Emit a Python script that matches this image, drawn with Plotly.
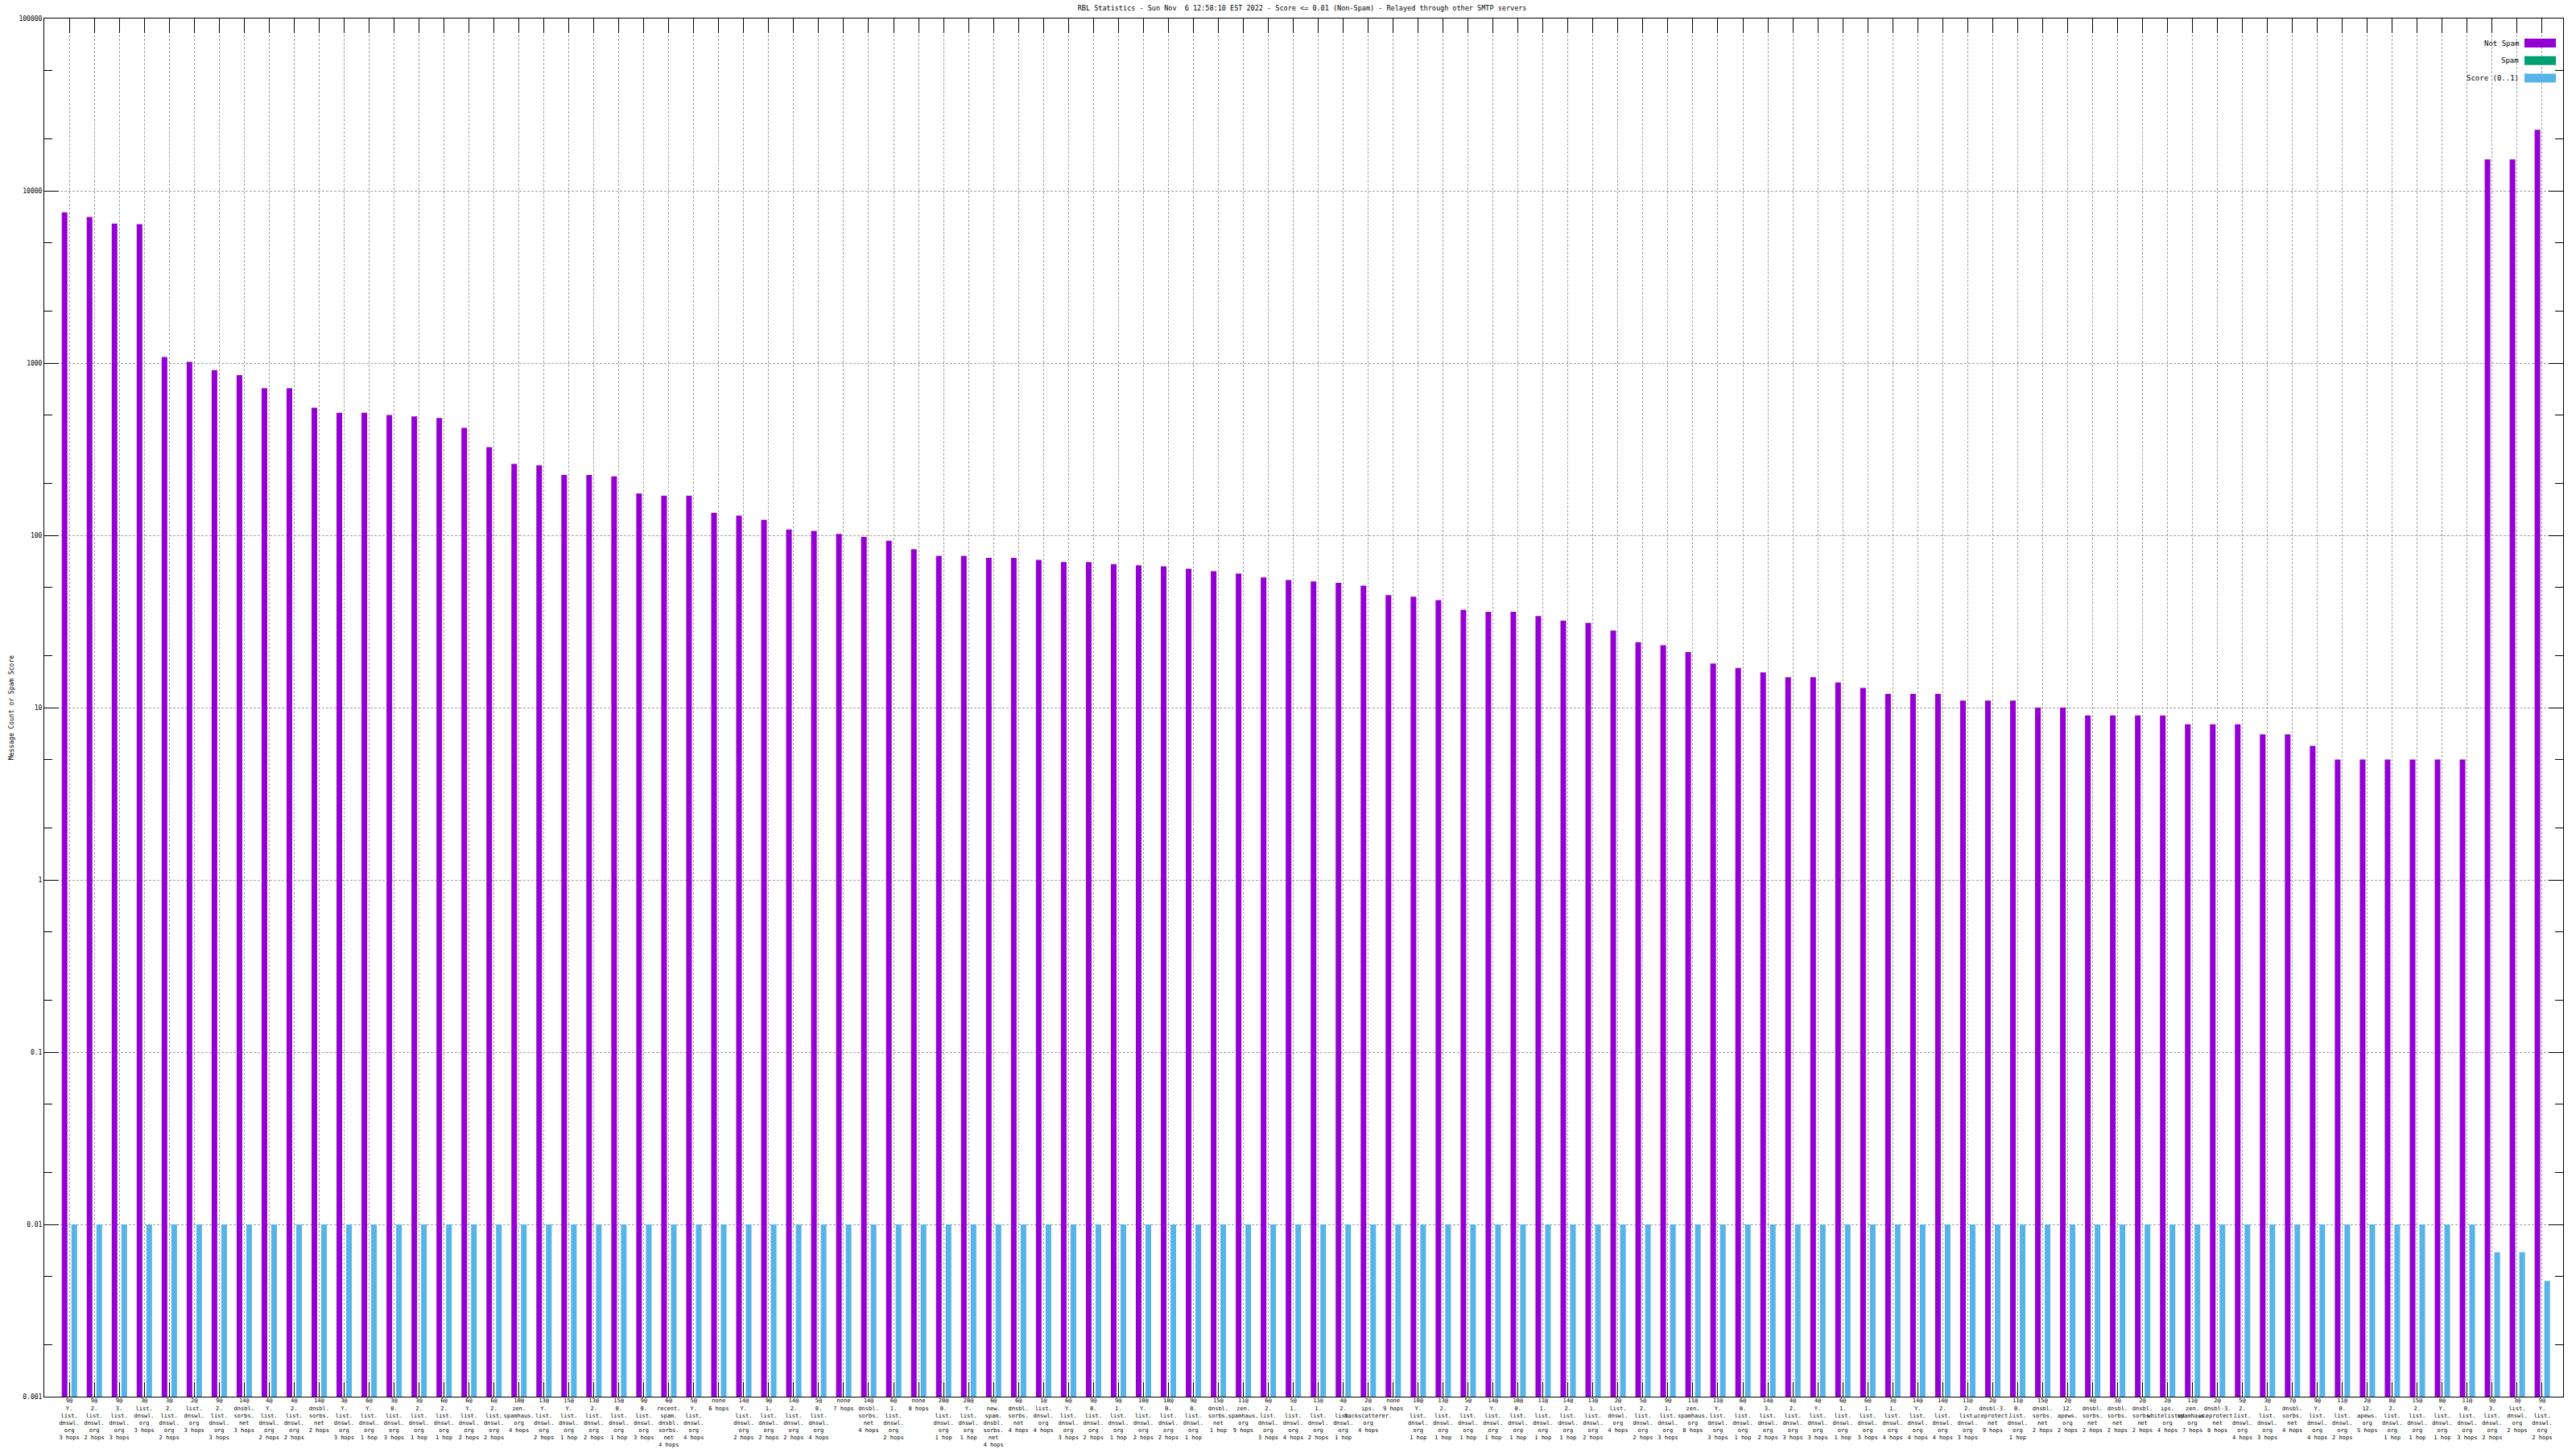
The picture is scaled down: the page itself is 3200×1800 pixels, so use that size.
import plotly.graph_objects as go

TITLE = "RBL Statistics - Sun Nov  6 12:58:10 EST 2022 - Score <= 0.01 (Non-Spam) - Relayed through other SMTP servers"
Y_TITLE = "Message Count or Spam Score"
SERIES = ["Not Spam", "Spam", "Score (0..1)"]
COLORS = ["#9400D3", "#009E73", "#56B4E9"]

categories = [
    "9@|Y.|list.|dnswl.|org|3 hops", "9@|2.|list.|dnswl.|org|2 hops", "9@|3.|list.|dnswl.|org|3 hops",
    "3@|list.|dnswl.|org|3 hops", "3@|2.|list.|dnswl.|org|2 hops", "2@|list.|dnswl.|org|3 hops",
    "9@|2.|list.|dnswl.|org|3 hops", "14@|dnsbl.|sorbs.|net|3 hops", "4@|Y.|list.|dnswl.|org|2 hops",
    "4@|2.|list.|dnswl.|org|2 hops", "14@|dnsbl.|sorbs.|net|2 hops", "3@|Y.|list.|dnswl.|org|3 hops",
    "6@|Y.|list.|dnswl.|org|1 hop", "3@|0.|list.|dnswl.|org|3 hops", "3@|2.|list.|dnswl.|org|1 hop",
    "6@|2.|list.|dnswl.|org|1 hop", "6@|Y.|list.|dnswl.|org|2 hops", "6@|2.|list.|dnswl.|org|2 hops",
    "10@|zen.|spamhaus.|org|4 hops", "13@|Y.|list.|dnswl.|org|2 hops", "15@|Y.|list.|dnswl.|org|1 hop",
    "13@|2.|list.|dnswl.|org|2 hops", "15@|0.|list.|dnswl.|org|1 hop", "9@|0.|list.|dnswl.|org|3 hops",
    "6@|recent.|spam.|dnsbl.|sorbs.|net|4 hops", "5@|Y.|list.|dnswl.|org|4 hops", "none|6 hops",
    "14@|Y.|list.|dnswl.|org|2 hops", "9@|1.|list.|dnswl.|org|2 hops", "14@|2.|list.|dnswl.|org|2 hops",
    "5@|0.|list.|dnswl.|org|4 hops", "none|7 hops", "14@|dnsbl.|sorbs.|net|4 hops",
    "6@|1.|list.|dnswl.|org|2 hops", "none|8 hops", "20@|0.|list.|dnswl.|org|1 hop",
    "20@|Y.|list.|dnswl.|org|1 hop", "6@|new.|spam.|dnsbl.|sorbs.|net|4 hops", "6@|dnsbl.|sorbs.|net|4 hops",
    "1@|list.|dnswl.|org|4 hops", "6@|Y.|list.|dnswl.|org|3 hops", "9@|0.|list.|dnswl.|org|2 hops",
    "9@|1.|list.|dnswl.|org|1 hop", "10@|Y.|list.|dnswl.|org|2 hops", "10@|0.|list.|dnswl.|org|2 hops",
    "9@|0.|list.|dnswl.|org|1 hop", "15@|dnsbl.|sorbs.|net|1 hop", "11@|zen.|spamhaus.|org|9 hops",
    "6@|2.|list.|dnswl.|org|3 hops", "5@|1.|list.|dnswl.|org|4 hops", "11@|1.|list.|dnswl.|org|2 hops",
    "4@|2.|list.|dnswl.|org|1 hop", "2@|ips.|backscatterer.|org|4 hops", "none|9 hops",
    "10@|Y.|list.|dnswl.|org|1 hop", "13@|2.|list.|dnswl.|org|1 hop", "5@|2.|list.|dnswl.|org|1 hop",
    "14@|Y.|list.|dnswl.|org|1 hop", "10@|0.|list.|dnswl.|org|1 hop", "11@|1.|list.|dnswl.|org|1 hop",
    "14@|2.|list.|dnswl.|org|1 hop", "13@|1.|list.|dnswl.|org|2 hops", "2@|list.|dnswl.|org|4 hops",
    "5@|2.|list.|dnswl.|org|2 hops", "9@|1.|list.|dnswl.|org|3 hops", "11@|zen.|spamhaus.|org|8 hops",
    "11@|Y.|list.|dnswl.|org|3 hops", "6@|0.|list.|dnswl.|org|1 hop", "14@|3.|list.|dnswl.|org|2 hops",
    "4@|2.|list.|dnswl.|org|3 hops", "4@|Y.|list.|dnswl.|org|3 hops", "6@|1.|list.|dnswl.|org|1 hop",
    "6@|1.|list.|dnswl.|org|3 hops", "3@|1.|list.|dnswl.|org|4 hops", "14@|Y.|list.|dnswl.|org|4 hops",
    "14@|2.|list.|dnswl.|org|4 hops", "11@|2.|list.|dnswl.|org|3 hops", "2@|dnsbl-3.|uceprotect.|net|9 hops",
    "11@|0.|list.|dnswl.|org|1 hop", "15@|dnsbl.|sorbs.|net|2 hops", "2@|12.|apews.|org|2 hops",
    "4@|dnsbl.|sorbs.|net|2 hops", "3@|dnsbl.|sorbs.|net|2 hops", "2@|dnsbl.|sorbs.|net|2 hops",
    "2@|ips.|whitelisted.|org|4 hops", "11@|zen.|spamhaus.|org|7 hops", "2@|dnsbl-3.|uceprotect.|net|8 hops",
    "5@|2.|list.|dnswl.|org|4 hops", "3@|1.|list.|dnswl.|org|3 hops", "7@|dnsbl.|sorbs.|net|4 hops",
    "9@|Y.|list.|dnswl.|org|4 hops", "11@|0.|list.|dnswl.|org|2 hops", "2@|12.|apews.|org|5 hops",
    "8@|2.|list.|dnswl.|org|1 hop", "15@|2.|list.|dnswl.|org|1 hop", "8@|Y.|list.|dnswl.|org|1 hop",
    "11@|0.|list.|dnswl.|org|3 hops", "9@|3.|list.|dnswl.|org|2 hops", "3@|list.|dnswl.|org|2 hops",
    "9@|Y.|list.|dnswl.|org|2 hops",
]

not_spam = [
    7500, 7040, 6450, 6400, 1085, 1015, 910, 850, 715, 715,
    550, 515, 515, 500, 490, 480, 420, 325, 260, 255,
    224, 224, 220, 175, 170, 170, 135, 130, 123, 108,
    106, 102, 98, 93, 83, 76, 76, 74, 74, 72,
    70, 70, 68, 67, 66, 64, 62, 60, 57, 55,
    54, 53, 51, 45, 44, 42, 37, 36, 36, 34,
    32, 31, 28, 24, 23, 21, 18, 17, 16, 15,
    15, 14, 13, 12, 12, 12, 11, 11, 11, 10,
    10, 9, 9, 9, 9, 8, 8, 8, 7, 7,
    6, 5, 5, 5, 5, 5, 5, 15200, 15200, 22600,
]

spam = [
    0, 0, 0, 0, 0, 0, 0, 0, 0, 0,
    0, 0, 0, 0, 0, 0, 0, 0, 0, 0,
    0, 0, 0, 0, 0, 0, 0, 0, 0, 0,
    0, 0, 0, 0, 0, 0, 0, 0, 0, 0,
    0, 0, 0, 0, 0, 0, 0, 0, 0, 0,
    0, 0, 0, 0, 0, 0, 0, 0, 0, 0,
    0, 0, 0, 0, 0, 0, 0, 0, 0, 0,
    0, 0, 0, 0, 0, 0, 0, 0, 0, 0,
    0, 0, 0, 0, 0, 0, 0, 0, 0, 0,
    0, 0, 0, 0, 0, 0, 0, 0, 0, 0,
]

score = [
    0.01, 0.01, 0.01, 0.01, 0.01, 0.01, 0.01, 0.01, 0.01, 0.01,
    0.01, 0.01, 0.01, 0.01, 0.01, 0.01, 0.01, 0.01, 0.01, 0.01,
    0.01, 0.01, 0.01, 0.01, 0.01, 0.01, 0.01, 0.01, 0.01, 0.01,
    0.01, 0.01, 0.01, 0.01, 0.01, 0.01, 0.01, 0.01, 0.01, 0.01,
    0.01, 0.01, 0.01, 0.01, 0.01, 0.01, 0.01, 0.01, 0.01, 0.01,
    0.01, 0.01, 0.01, 0.01, 0.01, 0.01, 0.01, 0.01, 0.01, 0.01,
    0.01, 0.01, 0.01, 0.01, 0.01, 0.01, 0.01, 0.01, 0.01, 0.01,
    0.01, 0.01, 0.01, 0.01, 0.01, 0.01, 0.01, 0.01, 0.01, 0.01,
    0.01, 0.01, 0.01, 0.01, 0.01, 0.01, 0.01, 0.01, 0.01, 0.01,
    0.01, 0.01, 0.01, 0.01, 0.01, 0.01, 0.01, 0.0069, 0.0069, 0.0047,
]

y_tickvals = [0.001, 0.01, 0.1, 1, 10, 100, 1000, 10000, 100000]
y_ticktext = ["0.001", "0.01", "0.1", "1", "10", "100", "1000", "10000", "100000"]

FONT = "DejaVu Sans Mono"
x = list(range(len(categories)))
ticktext = [c.replace("|", "<br>") for c in categories]

BW = 0.226
offsets = [-0.30, -0.113, 0.087]
fig = go.Figure()
for name, vals, col, off in zip(SERIES, [not_spam, spam, score], COLORS, offsets):
    fig.add_trace(go.Bar(
        x=x, y=[v if v > 0 else None for v in vals], name=name,
        marker=dict(color=col, line=dict(width=0)),
        width=BW, offset=off, showlegend=False,
    ))

# custom legend (text left of swatch, as in gnuplot)
for i, (name, col) in enumerate(zip(SERIES, COLORS)):
    y0 = 1 - (48 - 23 + i * 21.7) / 1712
    y1 = 1 - (59 - 23 + i * 21.7) / 1712
    fig.add_shape(type="rect", xref="paper", yref="paper",
                  x0=(3136 - 55) / 3129, x1=(3175 - 55) / 3129, y0=y1, y1=y0,
                  fillcolor=col, line=dict(width=0))
    fig.add_annotation(xref="paper", yref="paper", x=(3131 - 55) / 3129, y=(y0 + y1) / 2,
                       text=name, showarrow=False, xanchor="right", yanchor="middle",
                       font=dict(family=FONT, size=9, color="black"))

grid = dict(gridcolor="#a0a0a0", griddash="3px,2px", gridwidth=1)
fig.update_layout(
    width=3200, height=1800,
    margin=dict(l=55, r=16, t=23, b=65, autoexpand=False),
    plot_bgcolor="white", paper_bgcolor="white",
    barmode="overlay",
    title=dict(text=TITLE, x=0.5055, xanchor="center", y=1 - 7 / 1800, yanchor="top",
               font=dict(family=FONT, size=8.5, color="black")),
    font=dict(family=FONT, size=8, color="black"),
    xaxis=dict(range=[-1.0, 99.84], tickvals=x, ticktext=ticktext, automargin=False,
               ticks="inside", ticklen=18, tickcolor="black", tickwidth=1,
               showline=True, linecolor="black", linewidth=1, mirror="ticks",
               showgrid=True, zeroline=False, tickangle=0, ticklabelstandoff=-2,
               tickfont=dict(family=FONT, size=7, color="black"), **grid),
    yaxis=dict(type="log", range=[-3, 5], tickvals=y_tickvals, ticktext=y_ticktext,
               automargin=False,
               ticks="inside", ticklen=18, tickcolor="black", tickwidth=1,
               showline=True, linecolor="black", linewidth=1, mirror="ticks",
               showgrid=True, zeroline=False,
               minor=dict(ticks="inside", ticklen=10, tickcolor="black", tickwidth=1,
                          showgrid=False),
               tickfont=dict(family=FONT, size=8, color="black"),
               title=dict(text=Y_TITLE, standoff=4, font=dict(family=FONT, size=8, color="black")),
               **grid),
)

fig.write_html("out.html", post_script="document.body.style.margin='0';",
               config={"displayModeBar": False})
